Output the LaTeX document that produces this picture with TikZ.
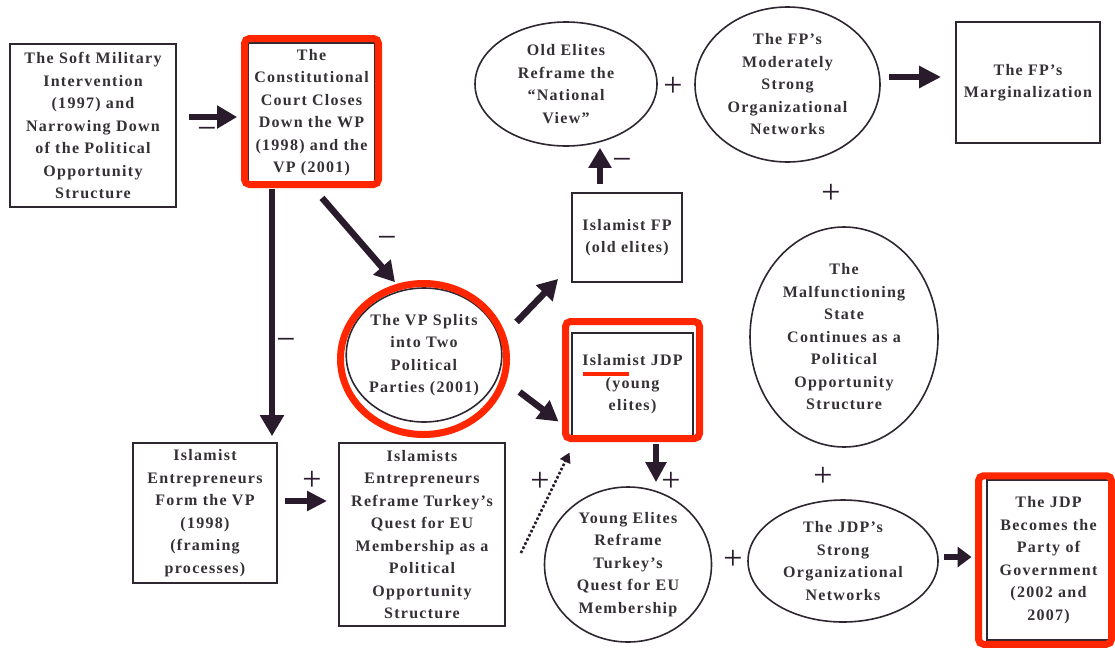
\documentclass[tikz,border=0pt]{standalone}
\usepackage{fontspec}
\newfontfamily\nodefont{Liberation Serif}[LetterSpace=8]
\newfontfamily\signfont{Liberation Serif}
\usetikzlibrary{arrows.meta,shapes.geometric,calc}
\definecolor{txtc}{HTML}{353035}
\definecolor{linec}{HTML}{2E2630}
\definecolor{arrc}{HTML}{2A1B2C}
\definecolor{redc}{HTML}{FF2600}
\tikzset{
 txt/.style={font=\nodefont\bfseries\fontsize{16}{22.5}\selectfont, text=txtc, align=center, inner sep=0pt},
 boxn/.style={txt, draw=linec, line width=1.8pt, rectangle},
 elln/.style={txt, draw=linec, line width=1.6pt, ellipse},
 redbox/.style={draw=redc, line width=7pt, rounded corners=5pt, rectangle, inner sep=0pt},
 redell/.style={draw=redc, line width=7pt, ellipse, inner sep=0pt},
 arr/.style={draw=arrc, line width=6.5pt, -{Triangle[length=20pt,width=22pt]}},
 dotarr/.style={draw=arrc, line width=2.6pt, dash pattern=on 2.6pt off 2pt, -{Triangle[length=10pt,width=11pt]}},
 sign/.style={font=\signfont\fontsize{34}{34}\selectfont, text=arrc, inner sep=0pt},
}
\begin{document}
\begin{tikzpicture}[x=1pt,y=-1pt]
\useasboundingbox (0,0) rectangle (1115,648);
\fill[white] (0,0) rectangle (1115,648);

% boxes and ellipses
\node[boxn, minimum width=166pt, minimum height=163pt] (soft) at (93,125.5)
  {The Soft Military\\Intervention\\(1997) and\\Narrowing Down\\of the Political\\Opportunity\\Structure};
\node[boxn, minimum width=127pt, minimum height=139pt] (cc) at (311.5,112.5)
  {The\\Constitutional\\Court Closes\\Down the WP\\(1998) and the\\VP (2001)};
\node[elln, minimum width=182pt, minimum height=124pt] (oe) at (566,84)
  {Old Elites\\Reframe the\\“National\\View”};
\node[elln, minimum width=185pt, minimum height=155pt] (fpm) at (787.5,84.5)
  {The FP’s\\Moderately\\Strong\\Organizational\\Networks};
\node[boxn, minimum width=144pt, minimum height=121pt] (marg) at (1028,82.5)
  {The FP’s\\Marginalization};
\node[boxn, minimum width=110pt, minimum height=89pt] (ifp) at (627,237.5)
  {Islamist FP\\(old elites)};
\node[elln, minimum width=155pt, minimum height=134pt] (vps) at (424,355)
  {The VP Splits\\into Two\\Political\\Parties (2001)};
\node[boxn, minimum width=121pt, minimum height=103pt] (jdp) at (632.5,384.5)
  {Islamist JDP\\(young\\elites)};
\node[elln, minimum width=188pt, minimum height=220pt] (mal) at (844,337)
  {The\\Malfunctioning\\State\\Continues as a\\Political\\Opportunity\\Structure};
\node[boxn, minimum width=144pt, minimum height=140pt] (formvp) at (205,513)
  {Islamist\\Entrepreneurs\\Form the VP\\(1998)\\(framing\\processes)};
\node[boxn, minimum width=166pt, minimum height=183pt] (refr) at (422,534.5)
  {Islamists\\Entrepreneurs\\Reframe Turkey’s\\Quest for EU\\Membership as a\\Political\\Opportunity\\Structure};
\node[elln, minimum width=167pt, minimum height=155pt] (ye) at (628,564.5)
  {Young Elites\\Reframe\\Turkey’s\\Quest for EU\\Membership};
\node[elln, minimum width=190pt, minimum height=122pt] (jdps) at (843,561)
  {The JDP’s\\Strong\\Organizational\\Networks};
\node[boxn, minimum width=123pt, minimum height=160pt] (jdpb) at (1048.5,560)
  {The JDP\\Becomes the\\Party of\\Government\\(2002 and\\2007)};

% red highlight frames
\node[redbox, minimum width=134pt, minimum height=146pt] (ccr) at (311.5,111.5) {};
\node[redbox, minimum width=134pt, minimum height=117pt] (jdpr) at (632.5,380) {};
\node[redbox, minimum width=133pt, minimum height=168.5pt] (jdpbr) at (1045,560) {};
\node[redell, minimum width=166pt, minimum height=151pt] (vpsr) at (423.5,359) {};
\draw[draw=redc, line width=3.5pt] (583,374) -- (629,374);

% arrows
\draw[arr] ($(soft.east)+(12,-8.5)$) -- ($(cc.west |- soft.east)+(-10,-8.5)$);
\draw[arr, -{Triangle[length=21pt,width=23pt]}] ($(cc.south)+(-39.5,6)$) -- ($(formvp.north -| cc.south)+(-39.5,-6)$);
\draw[arr] ($(cc.south)+(10.5,15)$) -- ($(vps.north)+(-29,-5)$);
\draw[arr] ($(vps.east)+(14,-33)$) -- ($(ifp.south west)+(-13,-4)$);
\draw[arr] ($(vps.east)+(17,37)$) -- ($(jdpr.south west)+(-3.5,-20.5)$);
\draw[arr] ($(ifp.north)+(-27,-8)$) -- ($(ifp.north |- oe.south)+(-27,1)$);
\draw[arr, -{Triangle[length=22pt,width=21pt]}] ($(fpm.east)+(8,-7.5)$) -- ($(marg.west |- fpm.east)+(-14,-7.5)$);
\draw[arr, -{Triangle[length=20pt,width=20pt]}] ($(jdp.south)+(23.5,7)$) -- ($(jdp.south |- ye.north)+(23.5,-4)$);
\draw[arr, -{Triangle[length=20pt,width=19pt]}] ($(formvp.east)+(7,-12)$) -- ($(refr.west |- formvp.east)+(-11,-12)$);
\draw[dotarr] ($(refr.east)+(15,18.5)$) -- ($(jdpr.south west)+(7.5,10.5)$);
\draw[arr, -{Triangle[length=14pt,width=20pt]}] ($(jdps.east)+(5,-4)$) -- ($(jdpbr.west |- jdps.east)+(-3.5,-4)$);

% signs
\node[sign] (m1) at (207,133) {−};
\node[sign] (m2) at (286,344) {−};
\node[sign] (m3) at (387,242) {−};
\node[sign] (m4) at (622,164) {−};
\node[sign] (p1) at (673,87) {+};
\node[sign] (p2) at (831,194) {+};
\node[sign] (p3) at (312,481) {+};
\node[sign] (p4) at (540,482) {+};
\node[sign] (p5) at (671,482) {+};
\node[sign] (p6) at (733,560) {+};
\node[sign] (p7) at (823,477) {+};
\end{tikzpicture}
\end{document}
